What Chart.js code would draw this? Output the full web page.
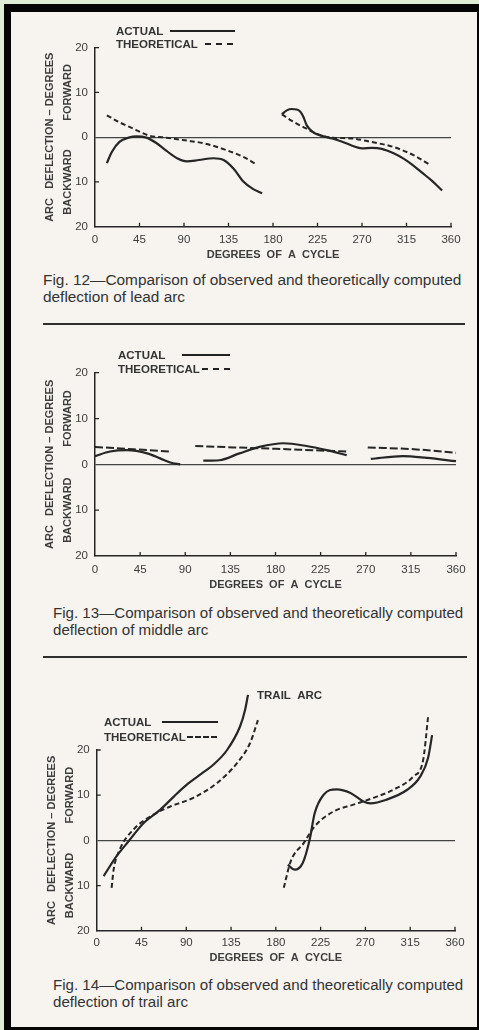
<!DOCTYPE html>
<html lang="en">
<head>
  <meta charset="UTF-8">
  <title>Arc deflection, Figs. 12-14</title>
  <style>
    body {
      margin: 0;
      width: 479px;
      height: 1030px;
      background: #dfecd6;
      position: relative;
      overflow: hidden;
      font-family: "Liberation Sans", Arial, sans-serif;
      color: #3a3a3a;
    }
    #frame {
      position: absolute;
      left: 4px; top: 4px;
      width: 475px; height: 1026px;
      background: #050505;
    }
    #paper {
      position: absolute;
      left: 11px; top: 12px;
      width: 466px; height: 1015px;
      background: #f7f4ef;
    }
    .box {
      position: absolute;
      left: 0;
      width: 479px;
    }
    .caption {
      position: absolute;
      font-size: 15.4px;
      line-height: 17px;
      white-space: nowrap;
      color: #333;
    }
    .rule {
      position: absolute;
      height: 2px;
      background: #2e2e2e;
    }
    .key {
      position: absolute;
      font-weight: bold;
      font-size: 11.5px;
      line-height: 12px;
      color: #333;
      white-space: nowrap;
    }
    .solid, .dash {
      position: absolute;
      height: 0;
      border-top: 2px solid #222;
    }
    .dash { border-top-style: dashed; }
  </style>
</head>
<body>
  <div id="frame"></div>
  <div id="paper"></div>

  <!-- Fig. 12 -->
  <div class="box" style="top:0;height:265px"><canvas id="fig12"></canvas></div>
  <div class="key" style="left:116px;top:25px">ACTUAL</div>
  <div class="solid" style="left:170px;top:30px;width:65px"></div>
  <div class="key" style="left:116px;top:38px">THEORETICAL</div>
  <div class="dash" style="left:205px;top:43px;width:28px"></div>
  <div class="caption" style="left:43px;top:271px">Fig. 12—Comparison of observed and theoretically computed<br>deflection of lead arc</div>
  <div class="rule" style="left:43px;top:323px;width:422px"></div>

  <!-- Fig. 13 -->
  <div class="box" style="top:340px;height:255px"><canvas id="fig13"></canvas></div>
  <div class="key" style="left:118px;top:349px">ACTUAL</div>
  <div class="solid" style="left:182px;top:354px;width:48px"></div>
  <div class="key" style="left:118px;top:363px">THEORETICAL</div>
  <div class="dash" style="left:202px;top:368px;width:28px"></div>
  <div class="caption" style="left:53px;top:604px;font-size:15.1px">Fig. 13—Comparison of observed and theoretically computed<br>deflection of middle arc</div>
  <div class="rule" style="left:43px;top:656px;width:424px"></div>

  <!-- Fig. 14 -->
  <div class="box" style="top:680px;height:288px"><canvas id="fig14"></canvas></div>
  <div class="key" style="left:257px;top:689px">TRAIL&nbsp;&nbsp;ARC</div>
  <div class="key" style="left:104px;top:716px">ACTUAL</div>
  <div class="solid" style="left:162px;top:721px;width:56px"></div>
  <div class="key" style="left:104px;top:731px">THEORETICAL</div>
  <div class="dash" style="left:187px;top:736px;width:30px"></div>
  <div class="caption" style="left:53px;top:976px;font-size:15.1px">Fig. 14—Comparison of observed and theoretically computed<br>deflection of trail arc</div>

  <script src="https://cdn.jsdelivr.net/npm/chart.js"></script>
  <script>
    // tick values (y labels are shown without sign: forward up, backward down)
    const xTicks = [0, 45, 90, 135, 180, 225, 270, 315, 360];
    const yTicks = [-20, -10, 0, 10, 20];

    // Fig. 12 - lead arc  [degrees of cycle, deflection]
    const leadActual1 = [[12,-5.8],[17,-3.3],[25,-1.0],[34,-0.1],[42,0.2],[52,-0.1],[62,-1.3],[72,-3.0],[83,-4.7],[93,-5.4],[105,-5.1],[120,-4.7],[130,-5.1],[140,-7.0],[150,-9.9],[160,-11.6],[169,-12.5]];
    const leadActual2 = [[189,5.1],[194,6.0],[199,6.3],[204,6.2],[208,5.6],[211,4.4],[214,2.7],[220,1.2],[228,0.4],[240,-0.3],[250,-1.0],[260,-1.9],[270,-2.5],[280,-2.4],[290,-2.6],[302,-3.6],[312,-4.8],[320,-6.0],[330,-7.8],[340,-9.6],[351,-11.9]];
    const leadTheory1 = [[12,4.9],[25,3.3],[39,1.9],[54,0.4],[72,-0.1],[91,-0.7],[111,-1.4],[133,-2.9],[150,-4.4],[162,-5.9]];
    const leadTheory2 = [[189,5.1],[201,3.4],[214,1.9],[228,0.4],[241,-0.1],[261,-0.3],[278,-1.0],[302,-2.2],[322,-4.0],[339,-6.2]];

    // Fig. 13 - middle arc
    const midActual1 = [[0,1.8],[15,2.8],[32,3.1],[52,2.4],[65,1.3],[75,0.4],[85,0]];
    const midActual2 = [[108,0.8],[124,0.9],[144,2.4],[164,3.8],[188,4.6],[211,4.0],[231,3.1],[251,2.0]];
    const midActual3 = [[275,1.2],[307,1.8],[331,1.4],[360,0.7]];
    const midTheory1 = [[0,3.8],[38,3.3],[75,2.8]];
    const midTheory2 = [[100,4.0],[138,3.7],[178,3.4],[204,3.2],[251,2.8]];
    const midTheory3 = [[272,3.7],[318,3.3],[360,2.5]];

    // Fig. 14 - trail arc
    const trailActual1 = [[7,-7.9],[20,-3.5],[32,-0.2],[47,3.8],[64,6.8],[78,9.8],[92,12.6],[105,14.7],[118,16.9],[131,20.0],[144,25.2],[149,28.8],[152,32.2]];
    const trailActual2 = [[192,-5.4],[199,-6.5],[207,-5.0],[214,0.2],[219,6.0],[228,10.1],[241,11.3],[255,10.5],[268,8.6],[275,8.2],[291,9.0],[312,11.2],[325,14.1],[333,18.3],[337,23.3]];
    const trailTheory1 = [[15,-10.5],[17,-6.5],[23,-2.1],[37,2.4],[54,5.3],[74,7.5],[97,9.4],[121,12.7],[141,17.1],[154,21.5],[162,26.6]];
    const trailTheory2 = [[188,-10.5],[195,-4.6],[208,-0.6],[219,3.1],[238,6.4],[258,7.9],[278,9.4],[298,11.2],[318,14.1],[328,17.8],[333,27.4]];

    const ink = '#262626';
    const grey = '#3c3c3c';
    const fontName = '"Liberation Sans", Arial, sans-serif';

    // join segments, with a null point between them so the line breaks
    function joined(...parts) {
      const out = [];
      parts.forEach((p, i) => {
        if (i) out.push({x: (parts[i - 1][parts[i - 1].length - 1][0] + p[0][0]) / 2, y: null});
        p.forEach(([x, y]) => out.push({x, y}));
      });
      return out;
    }

    // small inward ticks and the FORWARD / BACKWARD words
    const axisMarks = {
      id: 'axisMarks',
      afterDraw(chart) {
        const {ctx, chartArea: a, scales: {x, y}} = chart;
        ctx.save();
        ctx.strokeStyle = ink;
        ctx.lineWidth = 1.3;
        ctx.beginPath();
        xTicks.slice(1).forEach(v => {
          const px = x.getPixelForValue(v);
          ctx.moveTo(px, a.bottom);
          ctx.lineTo(px, a.bottom - 4);
        });
        [20, 10, -10].forEach(v => {
          const py = y.getPixelForValue(v);
          ctx.moveTo(a.left, py);
          ctx.lineTo(a.left + 4, py);
        });
        ctx.stroke();
        ctx.fillStyle = grey;
        ctx.font = 'bold 11px ' + fontName;
        ctx.textAlign = 'center';
        ctx.textBaseline = 'middle';
        [['FORWARD', 10], ['BACKWARD', -10]].forEach(([t, v]) => {
          ctx.save();
          ctx.translate(a.left - 27, y.getPixelForValue(v));
          ctx.rotate(-Math.PI / 2);
          ctx.fillText(t, 0, 0);
          ctx.restore();
        });
        ctx.restore();
      }
    };

    function makeChart(id, actual, theory, dash, pad, xPad, titlePad) {
      return new Chart(document.getElementById(id), {
        type: 'line',
        data: {
          datasets: [
            {label: 'ACTUAL', data: actual, borderColor: ink, borderWidth: 2.2, pointRadius: 0,
             cubicInterpolationMode: 'monotone', spanGaps: false, clip: false},
            {label: 'THEORETICAL', data: theory, borderColor: ink, borderWidth: 2, borderDash: dash, pointRadius: 0,
             cubicInterpolationMode: 'monotone', spanGaps: false, clip: false}
          ]
        },
        options: {
          responsive: true,
          maintainAspectRatio: false,
          animation: false,
          layout: {padding: pad},
          plugins: {legend: {display: false}, tooltip: {enabled: false}},
          scales: {
            x: {
              type: 'linear', min: 0, max: 360,
              afterBuildTicks: s => { s.ticks = xTicks.map(v => ({value: v})); },
              afterFit: s => { s.height = pad.xh; },
              grid: {display: false, drawTicks: false},
              border: {color: ink, width: 1.5},
              ticks: {color: grey, padding: xPad, font: {family: fontName, size: 11.5}},
              title: {display: true, text: 'DEGREES  OF  A  CYCLE', color: grey,
                      font: {family: fontName, size: 11, weight: 'bold'}, padding: {top: 0, bottom: titlePad}}
            },
            y: {
              type: 'linear', min: -20, max: 20,
              afterBuildTicks: s => { s.ticks = yTicks.map(v => ({value: v})); },
              afterFit: s => { s.width = 60; },
              grid: {drawTicks: false, lineWidth: 1.3,
                     color: c => (c.tick && c.tick.value === 0) ? '#444' : 'rgba(0,0,0,0)'},
              border: {color: ink, width: 1.5},
              ticks: {color: grey, padding: 7, font: {family: fontName, size: 11.5},
                      callback: v => Math.abs(v)},
              title: {display: true, text: 'ARC   DEFLECTION – DEGREES', color: grey,
                      font: {family: fontName, size: 11, weight: 'bold'}, padding: {top: 8.5, bottom: 0}}
            }
          }
        },
        plugins: [axisMarks]
      });
    }

    makeChart('fig12', joined(leadActual1, leadActual2), joined(leadTheory1, leadTheory2), [5, 3],
      {left: 35, right: 28, top: 47.7, bottom: 0, xh: 38.3}, 6, 3.4);
    makeChart('fig13', joined(midActual1, midActual2, midActual3), joined(midTheory1, midTheory2, midTheory3), [8, 3],
      {left: 35, right: 23, top: 32.7, bottom: 0, xh: 39}, 7, 3.4);
    makeChart('fig14', joined(trailActual1, trailActual2), joined(trailTheory1, trailTheory2), [5, 3],
      {left: 36.7, right: 24, top: 70, bottom: 0, xh: 37.3}, 5.5, 3.4);
  </script>
</body>
</html>
